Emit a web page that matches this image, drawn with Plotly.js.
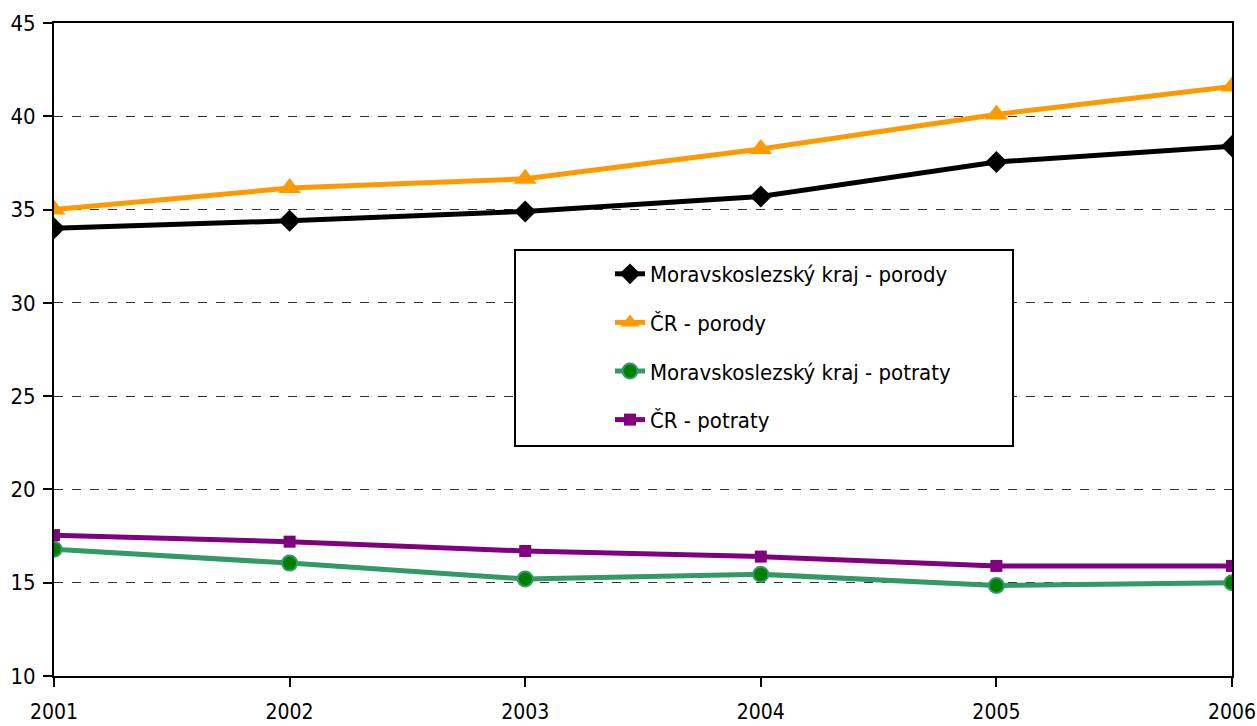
<!DOCTYPE html>
<html>
<head>
<meta charset="utf-8">
<script src="https://cdn.plot.ly/plotly-3.0.1.min.js"></script>
<style>html,body{margin:0;padding:0;background:#fff;}#chart{width:1257px;height:726px;}</style>
</head>
<body>
<div id="chart"></div>
<script>
const years = [2001, 2002, 2003, 2004, 2005, 2006];
const msPorody = [34.0, 34.4, 34.9, 35.7, 37.55, 38.4];
const crPorody = [35.0, 36.15, 36.65, 38.25, 40.1, 41.6];
const msPotraty = [16.8, 16.05, 15.2, 15.45, 14.85, 15.0];
const crPotraty = [17.55, 17.2, 16.7, 16.4, 15.9, 15.9];
const seriesNames = ["Moravskoslezský kraj - porody", "ČR - porody", "Moravskoslezský kraj - potraty", "ČR - potraty"];
const yTicks = [10, 15, 20, 25, 30, 35, 40, 45];

const FONT = "Liberation Sans Narrow, Arial Narrow, DejaVu Sans Condensed, sans-serif";

const traces = [
  {x: years, y: msPorody, name: seriesNames[0], mode: "lines+markers", legendgroup: "a",
   line: {color: "#000000", width: 5}, marker: {symbol: "diamond", size: 17, color: "#000000"}},
  {x: years, y: crPorody, name: seriesNames[1], mode: "lines+markers", legendgroup: "b",
   line: {color: "#FF9900", width: 5}, marker: {symbol: "triangle-up", size: 20, color: "#FF9900"}},
  {x: years, y: msPotraty, name: seriesNames[2], mode: "lines+markers", legendgroup: "c",
   line: {color: "#339966", width: 5}, marker: {symbol: "circle", size: 15, color: "#008000", line: {color: "#339966", width: 2}}},
  {x: years, y: crPotraty, name: seriesNames[3], mode: "lines+markers", legendgroup: "d",
   line: {color: "#800080", width: 5}, marker: {symbol: "square", size: 12, color: "#800080"}}
];

// legend frame, in pixels of the 1257x726 page converted to paper units
const L = 54, T = 23, W = 1178, H = 653;
const px2x = p => (p - L) / W;
const py2y = p => (T + H - p) / H;

const layout = {
  width: 1257, height: 726,
  margin: {l: L, r: 1257 - L - W, t: T, b: 726 - T - H},
  paper_bgcolor: "#ffffff", plot_bgcolor: "#ffffff",
  font: {family: FONT, size: 22, color: "#000000"},
  showlegend: true,
  legend: {
    x: px2x(610), y: py2y(253), xanchor: "left", yanchor: "top",
    bgcolor: "rgba(0,0,0,0)", borderwidth: 0,
    font: {family: FONT, size: 22, color: "#000000"},
    traceorder: "grouped", tracegroupgap: 17
  },
  shapes: [{
    type: "rect", xref: "paper", yref: "paper", layer: "above",
    x0: px2x(515), x1: px2x(1013), y0: py2y(446), y1: py2y(250),
    line: {color: "#000000", width: 2}, fillcolor: "#ffffff"
  }],
  xaxis: {
    range: [2001, 2006], tickvals: years, ticktext: years.map(String),
    showgrid: false, zeroline: false,
    showline: true, linecolor: "#000000", linewidth: 2, mirror: true,
    ticks: "outside", ticklen: 9, tickwidth: 2, tickcolor: "#000000",
    ticklabelstandoff: 7, ticklabeloverflow: "allow",
    tickfont: {family: FONT, size: 21, color: "#000000"}
  },
  yaxis: {
    range: [10, 45], tickvals: yTicks, ticktext: yTicks.map(String),
    showgrid: true, gridcolor: "#333333", gridwidth: 1, griddash: "dash",
    zeroline: false,
    showline: true, linecolor: "#000000", linewidth: 2, mirror: true,
    ticks: "outside", ticklen: 9, tickwidth: 2, tickcolor: "#000000",
    ticklabelstandoff: 3, ticklabeloverflow: "allow",
    tickfont: {family: FONT, size: 22, color: "#000000"}
  }
};

Plotly.newPlot("chart", traces, layout, {displayModeBar: false, staticPlot: true});
</script>
</body>
</html>
